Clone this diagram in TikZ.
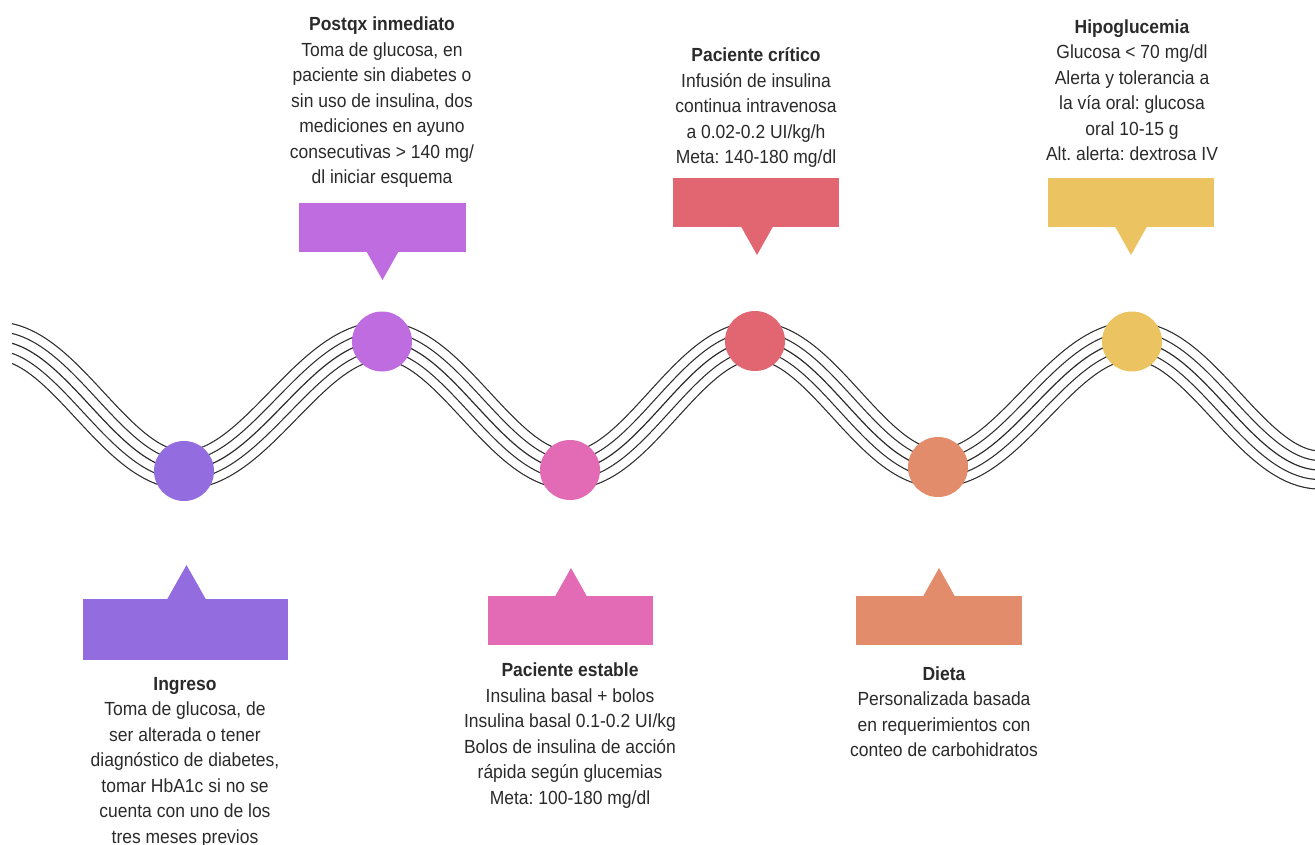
\documentclass[tikz,border=0pt]{standalone}
\usepackage{fontspec}
\setmainfont{Liberation Sans}[FakeStretch=0.92]
\frenchspacing
\definecolor{cIng}{HTML}{936CE0}
\definecolor{cPost}{HTML}{BE6CE0}
\definecolor{cEst}{HTML}{E36AB4}
\definecolor{cCrit}{HTML}{E26671}
\definecolor{cDiet}{HTML}{E38C6B}
\definecolor{cHipo}{HTML}{EBC461}
\definecolor{textc}{HTML}{2A2A2A}
\definecolor{wavec}{HTML}{2C2C2C}
\newcommand\wavecurve{(-4,341)
    .. controls (64.4,341) and (115.6,470) .. (184,470)
    .. controls (256.1,470) and (309.9,341) .. (382,341)
    .. controls (450.4,341) and (501.6,470) .. (570,470)
    .. controls (637.3,470) and (687.7,341) .. (755,341)
    .. controls (821.6,341) and (871.4,468) .. (938,468)
    .. controls (1008.6,468) and (1061.4,341) .. (1132,341)
    .. controls (1200.4,341) and (1251.6,470) .. (1320,470)}
\begin{document}
\begin{tikzpicture}[x=1pt,y=-1pt,
  dot/.style={circle,minimum size=60pt,inner sep=0pt,draw=none},
  txt/.style={anchor=base,align=center,inner sep=0pt,text=textc,
    font=\fontsize{19}{25.5}\selectfont}]
\useasboundingbox (0,0) rectangle (1315,844);
% wave lines (five parallel strokes)
\begin{scope}
\clip (12,0) rectangle (1315,844);
\draw[wavec,line width=39.2pt] \wavecurve;
\draw[white,line width=36.8pt] \wavecurve;
\draw[wavec,line width=20.2pt] \wavecurve;
\draw[white,line width=17.8pt] \wavecurve;
\draw[wavec,line width=1.2pt] \wavecurve;
\end{scope}
% dots
\node[dot,fill=cIng]  (dIng)  at (184,471) {};
\node[dot,fill=cPost] (dPost) at (382,341.5) {};
\node[dot,fill=cEst]  (dEst)  at (570,470) {};
\node[dot,fill=cCrit] (dCrit) at (755,341) {};
\node[dot,fill=cDiet] (dDiet) at (938,467) {};
\node[dot,fill=cHipo] (dHipo) at (1132,341.5) {};
% top callouts
\fill[cPost] (299,203) rectangle (466,252);
\fill[cPost] (366.5,251.5) -- (382.5,280) -- (398.5,251.5) -- cycle;
\fill[cCrit] (673,178) rectangle (839,227);
\fill[cCrit] (741,226.5) -- (757,255) -- (773,226.5) -- cycle;
\fill[cHipo] (1048,178) rectangle (1214,227);
\fill[cHipo] (1115,226.5) -- (1131,255) -- (1147,226.5) -- cycle;
% bottom callouts
\fill[cIng] (83,599) rectangle (288,660);
\fill[cIng] (167,599.5) -- (186.5,565) -- (206,599.5) -- cycle;
\fill[cEst] (488,596) rectangle (653,645);
\fill[cEst] (555,596.5) -- (571,568) -- (587,596.5) -- cycle;
\fill[cDiet] (856,596) rectangle (1022,645);
\fill[cDiet] (923,596.5) -- (939,568) -- (955,596.5) -- cycle;
% texts (anchor = baseline of last line)
\node[txt] (tPost) at (382,183.5) {\textbf{Postqx inmediato}\\Toma de glucosa, en\\paciente sin diabetes o\\sin uso de insulina, dos\\mediciones en ayuno\\consecutivas > 140 mg/\\dl iniciar esquema};
\node[txt] (tCrit) at (756,163.5) {\textbf{Paciente crítico}\\Infusión de insulina\\continua intravenosa\\a 0.02-0.2 UI/kg/h\\Meta: 140-180 mg/dl};
\node[txt] (tHipo) at (1132,160.5) {\textbf{Hipoglucemia}\\Glucosa < 70 mg/dl\\Alerta y tolerancia a\\la vía oral: glucosa\\oral 10-15 g\\Alt. alerta: dextrosa IV};
\node[txt] (tIng) at (185,843) {\textbf{Ingreso}\\Toma de glucosa, de\\ser alterada o tener\\diagnóstico de diabetes,\\tomar HbA1c si no se\\cuenta con uno de los\\tres meses previos};
\node[txt] (tEst) at (570,804) {\textbf{Paciente estable}\\Insulina basal + bolos\\Insulina basal 0.1-0.2 UI/kg\\Bolos de insulina de acción\\rápida según glucemias\\Meta: 100-180 mg/dl};
\node[txt] (tDiet) at (944,756.5) {\textbf{Dieta}\\Personalizada basada\\en requerimientos con\\conteo de carbohidratos};
\end{tikzpicture}
\end{document}
